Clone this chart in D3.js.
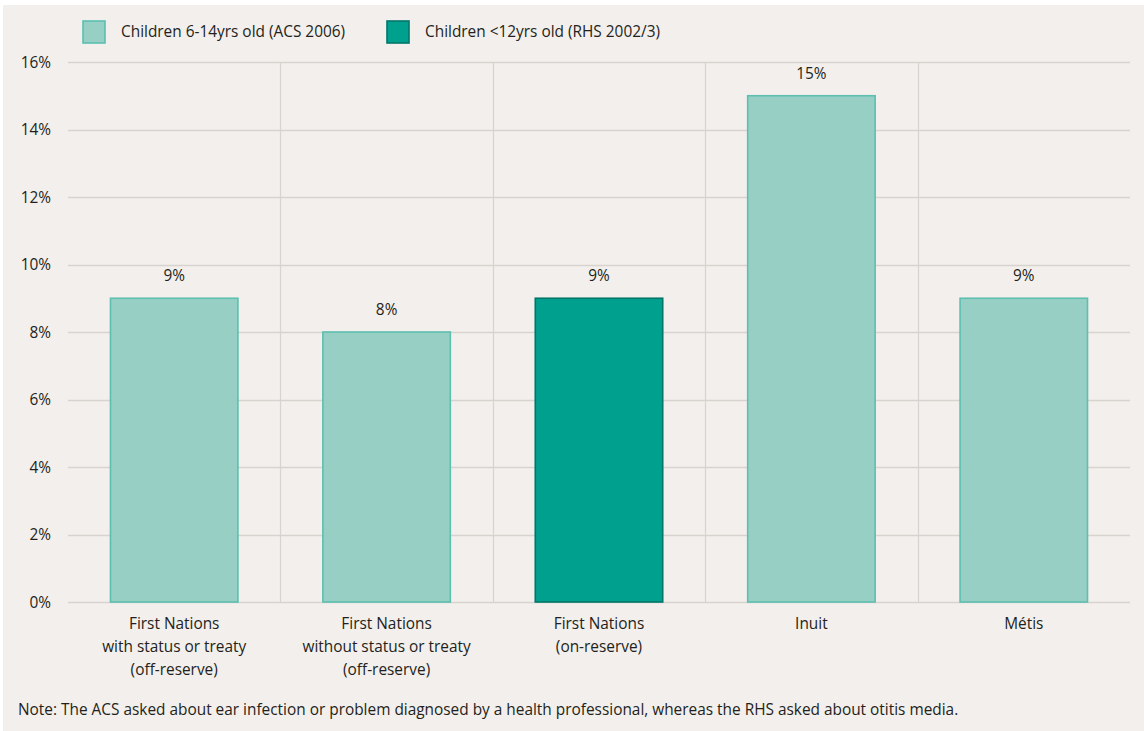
<!DOCTYPE html>
<html><head><meta charset="utf-8">
<script src="https://cdn.jsdelivr.net/npm/d3@7"></script>
<style>
html,body{margin:0;padding:0;background:#fff;}
svg{display:block;}
text{font-family:"Open Sans","Noto Sans",sans-serif;fill:#231f20;}
</style></head>
<body>
<script>
const categories = [
  ["First Nations","with status or treaty","(off-reserve)"],
  ["First Nations","without status or treaty","(off-reserve)"],
  ["First Nations","(on-reserve)"],
  ["Inuit"],
  ["Métis"]
];
const values = [9, 8, 9, 15, 9];
const seriesIndex = [0, 0, 1, 0, 0];
const seriesNames = ["Children 6-14yrs old (ACS 2006)", "Children <12yrs old (RHS 2002/3)"];
const yTicks = [0, 2, 4, 6, 8, 10, 12, 14, 16];
const note = "Note: The ACS asked about ear infection or problem diagnosed by a health professional, whereas the RHS asked about otitis media.";

const W = 1144, H = 731;
const FS = 15.4;
const fills = ["#97cfc5", "#00a08f"];
const strokes = ["#5cbfb0", "#00766a"];

const svg = d3.select("body").append("svg").attr("width", W).attr("height", H);
svg.append("rect").attr("x", 3).attr("y", 5).attr("width", W - 3).attr("height", H - 5).attr("fill", "#f3efec");

const x = d3.scaleBand().domain(d3.range(categories.length)).range([68, 1130]).paddingInner(0).paddingOuter(0);
const y = d3.scaleLinear().domain([0, 16]).range([602, 62]);

// horizontal grid
svg.append("g").selectAll("line").data(yTicks).join("line")
  .attr("x1", 68).attr("x2", 1130)
  .attr("y1", d => Math.round(y(d)) + 0.5).attr("y2", d => Math.round(y(d)) + 0.5)
  .attr("stroke", "#d8d3cd").attr("stroke-width", 1.5);

// vertical dividers
svg.append("g").selectAll("line").data(d3.range(1, categories.length)).join("line")
  .attr("x1", d => Math.round(x(d)) + 0.5).attr("x2", d => Math.round(x(d)) + 0.5)
  .attr("y1", y(16)).attr("y2", y(0))
  .attr("stroke", "#d8d3cd").attr("stroke-width", 1.2);

// y axis labels
const yAxis = d3.axisLeft(y).tickValues(yTicks).tickFormat(d => d + "%").tickSize(0).tickPadding(0);
const ga = svg.append("g").attr("transform", "translate(51,0)").call(yAxis);
ga.select(".domain").remove();
ga.selectAll("text").attr("font-size", FS).attr("font-family", "'Open Sans', sans-serif").attr("fill", "#231f20").attr("dy", "0.35em");

// bars
const bw = x.bandwidth() * 0.6;
svg.append("g").selectAll("rect").data(values).join("rect")
  .attr("x", (d, i) => x(i) + (x.bandwidth() - bw) / 2)
  .attr("y", d => y(d))
  .attr("width", bw)
  .attr("height", d => y(0) - y(d))
  .attr("fill", (d, i) => fills[seriesIndex[i]])
  .attr("stroke", (d, i) => strokes[seriesIndex[i]])
  .attr("stroke-width", 1.6);

// value labels
svg.append("g").selectAll("text").data(values).join("text")
  .attr("x", (d, i) => x(i) + x.bandwidth() / 2)
  .attr("y", d => y(d) - 17)
  .attr("text-anchor", "middle").attr("font-size", FS)
  .text(d => d + "%");

// category labels
const cg = svg.append("g").selectAll("text").data(categories).join("text")
  .attr("text-anchor", "middle").attr("font-size", FS)
  .attr("x", (d, i) => x(i) + x.bandwidth() / 2)
  .attr("y", 629);
cg.selectAll("tspan").data(d => d).join("tspan")
  .attr("x", function () { return d3.select(this.parentNode).attr("x"); })
  .attr("dy", (d, i) => i === 0 ? 0 : 23)
  .text(d => d);

// legend
const legX = [83, 387];
const lg = svg.append("g").selectAll("g").data(seriesNames).join("g")
  .attr("transform", (d, i) => `translate(${legX[i]},21)`);
lg.append("rect").attr("width", 22).attr("height", 22)
  .attr("fill", (d, i) => fills[i]).attr("stroke", (d, i) => strokes[i]).attr("stroke-width", 1.6);
lg.append("text").attr("x", 38).attr("y", 11).attr("dy", "0.35em").attr("font-size", FS).text(d => d);

// note
svg.append("text").attr("x", 18).attr("y", 710).attr("dy", "0.35em").attr("font-size", FS).text(note);
</script>
</body></html>
